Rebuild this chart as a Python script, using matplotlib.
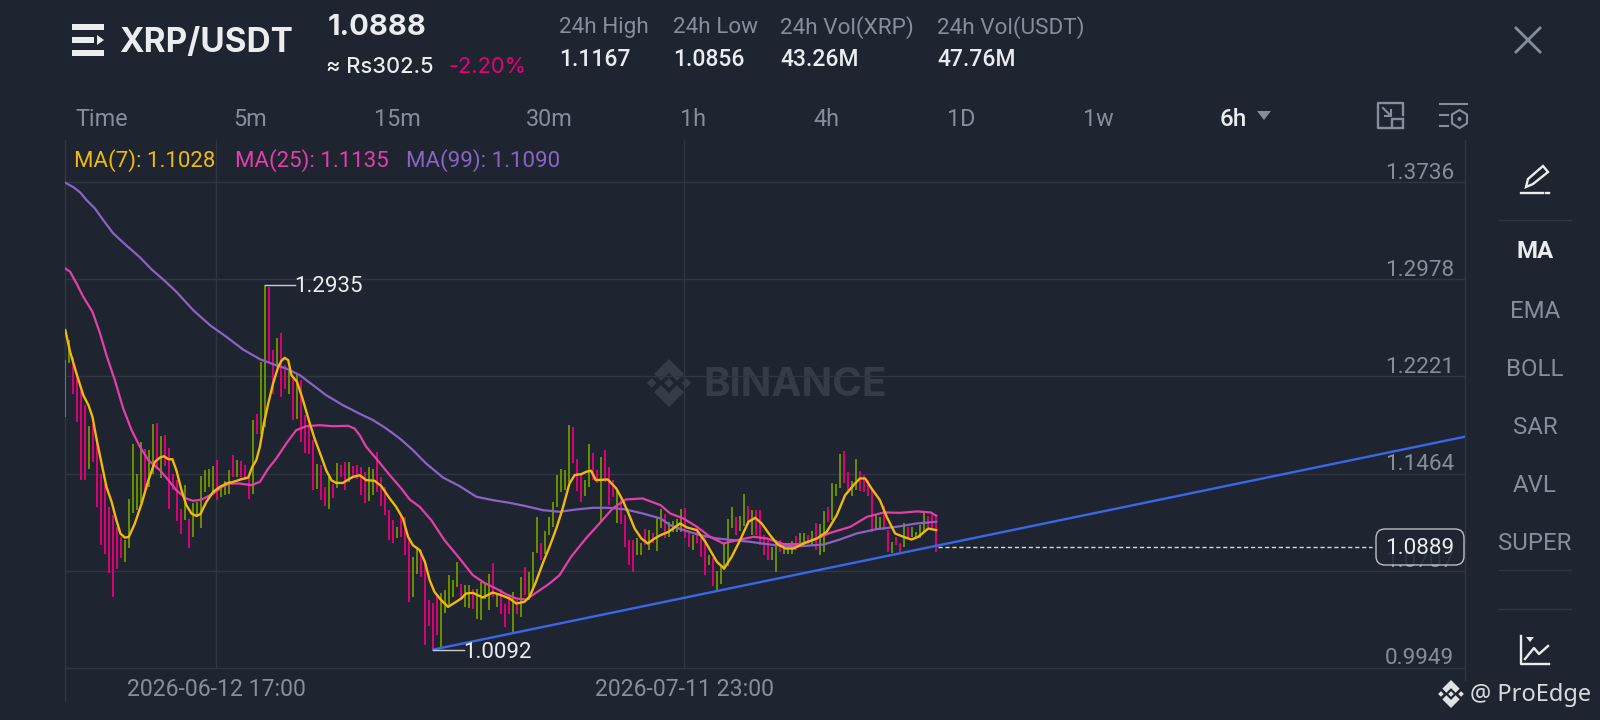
import matplotlib
matplotlib.use("Agg")
import matplotlib.pyplot as plt
from matplotlib.patches import Polygon, Rectangle, FancyBboxPatch, Circle

# bars left to right, 4px apart
bar_high = [
    1.2348,1.2504,1.2374,1.2244,1.2114,1.1997,1.1833,1.1854,1.1750,1.1459,
    1.1381,1.1204,1.1139,1.1048,1.0970,1.0949,1.1269,1.1698,1.1459,1.1711,
    1.1659,1.1651,1.1849,1.1859,1.1758,1.1768,1.1667,1.1464,1.1412,1.1191,
    1.1373,1.1113,1.1235,1.1243,1.1443,1.1495,1.1503,1.1521,1.1573,1.1360,
    1.1407,1.1495,1.1607,1.1568,1.1563,1.1529,1.1438,1.1880,1.1932,1.2335,
    1.2933,1.2920,1.2431,1.2522,1.2556,1.2309,1.2270,1.2231,1.2244,1.2192,
    1.1919,1.1854,1.1724,1.1542,1.1529,1.1360,1.1438,1.1386,1.1550,1.1529,
    1.1555,1.1555,1.1521,1.1529,1.1517,1.1478,1.1517,1.1496,1.1634,1.1439,
    1.1361,1.1179,1.1101,1.1049,1.1140,1.1127,1.0958,1.0810,1.0893,1.0867,
    1.0789,1.0482,1.0456,1.0529,1.0534,1.0555,1.0672,1.0633,1.0771,1.0607,
    1.0594,1.0594,1.0568,1.0568,1.0620,1.0612,1.0685,1.0763,1.0529,1.0568,
    1.0451,1.0503,1.0542,1.0477,1.0654,1.0737,1.0698,1.0854,1.1127,1.0919,
    1.1015,1.1127,1.1244,1.1452,1.1496,1.1491,1.1842,1.1824,1.1574,1.1452,
    1.1413,1.1694,1.1621,1.1491,1.1590,1.1647,1.1512,1.1413,1.1335,1.1257,
    1.1140,1.0945,1.0950,1.0958,1.0919,1.1028,1.1023,1.1002,1.1114,1.1184,
    1.1148,1.1088,1.1096,1.1106,1.1184,1.1192,1.0997,1.0984,1.1036,1.0971,
    1.0984,1.0828,1.0802,1.0706,1.0732,1.0932,1.1106,1.1205,1.1122,1.1135,
    1.1304,1.1210,1.1179,1.1179,1.1179,1.0984,1.0958,1.0888,1.0945,1.0945,
    1.0906,1.0919,1.0940,1.0979,1.0997,1.0997,1.0984,1.1015,1.1080,1.1067,
    1.1174,1.1205,1.1387,1.1382,1.1616,1.1642,1.1478,1.1405,1.1574,1.1486,
    1.1452,1.1413,1.1335,1.1140,1.1127,1.1210,1.1023,1.0932,1.0971,1.0919,
    1.1075,1.1049,1.1044,1.1010,1.1062,1.1158,1.1132,1.1140,1.1132]
bar_low = [
    1.1906,1.2322,1.2088,1.1867,1.1412,1.1417,1.1503,1.1555,1.1204,1.0905,
    1.0840,1.0689,1.0502,1.0723,1.0809,1.0775,1.0887,1.1160,1.1183,1.1235,
    1.1321,1.1360,1.1464,1.1503,1.1433,1.1521,1.1191,1.1334,1.1095,1.0996,
    1.1100,1.0887,1.0970,1.1126,1.1043,1.1321,1.1360,1.1308,1.1261,1.1282,
    1.1295,1.1308,1.1438,1.1438,1.1438,1.1412,1.1269,1.1308,1.1776,1.1776,
    1.1828,1.2335,1.2088,1.2296,1.2057,1.2127,1.2083,1.1885,1.1893,1.1711,
    1.1625,1.1620,1.1334,1.1347,1.1256,1.1209,1.1191,1.1277,1.1355,1.1438,
    1.1334,1.1399,1.1438,1.1425,1.1296,1.1231,1.1252,1.1296,1.1322,1.1210,
    1.1140,1.0945,1.0919,1.0958,1.0971,1.0828,1.0464,1.0503,1.0685,1.0659,
    1.0126,1.0274,1.0100,1.0204,1.0113,1.0378,1.0425,1.0503,1.0576,1.0490,
    1.0425,1.0420,1.0412,1.0334,1.0321,1.0490,1.0404,1.0503,1.0425,1.0373,
    1.0269,1.0373,1.0230,1.0373,1.0347,1.0516,1.0477,1.0555,1.0841,1.0794,
    1.0836,1.0984,1.1049,1.1205,1.1322,1.1335,1.1400,1.1543,1.1330,1.1244,
    1.1288,1.1361,1.1413,1.1387,1.1096,1.1400,1.1218,1.1283,1.1080,1.1070,
    1.0888,1.0750,1.0693,1.0828,1.0828,1.0906,1.0867,1.0919,1.0862,1.1036,
    1.0958,1.0971,1.1010,1.1010,1.1010,1.0958,1.0893,1.0867,1.0919,1.0810,
    1.0672,1.0750,1.0589,1.0542,1.0607,1.0711,1.0742,1.1036,1.0984,1.1015,
    1.1054,1.1062,1.0984,1.0984,1.0906,1.0828,1.0794,1.0794,1.0698,1.0854,
    1.0836,1.0836,1.0836,1.0867,1.0898,1.0906,1.0914,1.0898,1.0867,1.0833,
    1.0854,1.1088,1.1101,1.1288,1.1348,1.1387,1.1335,1.1288,1.1335,1.1330,
    1.1322,1.1288,1.1010,1.1023,1.1023,1.1023,1.0854,1.0846,1.0906,1.0849,
    1.0893,1.0971,1.0966,1.0958,1.0958,1.1010,1.1049,1.1036,1.0854]
# G = green bar, P = pink bar
bar_side = ("GGPPPPGPPP" "PPPPPGGGGG" "PGGPGPPPPP" "GPGGGGGGPG" "GGPGPPPGPG"
            "GPPGPPGPGP" "PPPGPPGPGP" "PGPPPPGGPP" "PPPGPPPGGP" "PPPPGGGGGP"
            "GGPGGGGPGP" "PPGPGPGGGP" "GGGGGGGPPP" "GGPPGPPPGP" "PPPGGPGPGG"
            "PGGGGPPGPP" "PGPGGGGGPG" "GPGPPPPGGP" "GGGPGGPGPG" "GPGGGPPGGP"
            "PPPGGPPGPP" "GPGGGGPPP")

ma7_idx = [0,1.2,2.8,4.5,5.8,6.8,7.8,9.1,10.3,11.6,12.8,13.8,14.9,15.9,17.4,19.1,20.8,22.4,23.7,24.7,
           25.8,26.8,27.8,29.1,30.3,31.6,32.8,33.8,35.3,37,38.7,40.3,42,44.1,45.8,46.8,47.8,48.7,49.7,50.8,
           52,53.3,54.1,54.9,55.8,56.6,58,59.5,61.2,62.4,64.1,65.3,66.6,67.8,69.5,70.8,72,73.7,
           75.3,77.4,79.1,81.2,82.8,84.5,85.8,87,88.7,90,91.2,92.4,94.1,95.8,97.4,99.1,100.3,102,104.5,107,
           109.1,111.2,112.9,114.9,116.2,117.8,119.5,121.2,122.9,124.5,126.2,127.5,129.2,130.4,131.6,132.8,135.8,137.9,139.5,140.8,
           142.5,144.2,145.8,147.5,149,151,153.9,155.6,158.1,160.2,163.1,164.9,166.8,168.9,171,172.7,174.3,176.4,178.1,180.2,
           182.3,184.8,188.1,190.6,193.1,195.2,197.3,198.9,200.2,201.8,203.9,205.6,207.7,209.8,211.8,213.5,216,218]
ma7_val = [1.2582,1.2413,1.2244,1.2075,1.1997,1.1906,1.1737,1.1542,1.1360,1.1243,1.1100,1.0996,1.0965,1.0970,1.1074,1.1230,1.1412,1.1555,1.1589,1.1599,
           1.1576,1.1576,1.1490,1.1334,1.1217,1.1152,1.1134,1.1147,1.1243,1.1321,1.1360,1.1386,1.1399,1.1420,1.1433,1.1516,1.1568,1.1672,1.1854,1.2010,
           1.2166,1.2296,1.2343,1.2366,1.2348,1.2231,1.2179,1.2036,1.1854,1.1737,1.1594,1.1490,1.1412,1.1391,1.1391,1.1417,1.1438,1.1451,
           1.1413,1.1408,1.1366,1.1270,1.1205,1.1114,1.0971,1.0906,1.0867,1.0776,1.0633,1.0542,1.0477,1.0425,1.0456,1.0490,1.0529,1.0534,1.0498,1.0537,
           1.0516,1.0490,1.0451,1.0464,1.0503,1.0620,1.0763,1.0893,1.1036,1.1192,1.1387,1.1452,1.1460,1.1478,1.1486,1.1413,1.1418,1.1348,1.1257,1.1166,
           1.1036,1.0958,1.0919,1.0958,1.0984,1.1010,1.1075,1.1044,1.1023,1.0932,1.0776,1.0724,1.0815,1.0945,1.1088,1.1119,1.1075,1.0984,1.0919,1.0880,
           1.0880,1.0919,1.0958,1.1010,1.1140,1.1296,1.1374,1.1426,1.1426,1.1348,1.1257,1.1127,1.0997,1.0971,1.0950,1.0971,1.1036,1.1023]

ma25_idx = [0,1.2,2.8,4.5,6.8,8.7,10.3,12.4,14.5,16.6,18.7,20.8,23.7,25.8,27.8,30.3,32,34.1,37,39.5,
            41.2,43.7,46.6,48.7,50.8,52.8,55.3,57.8,60.3,63.7,67,70.8,72.4,73.7,
            75.3,77.8,81.2,84.1,86.2,88.7,91.6,94.9,98.7,102,104.9,107.8,110.3,112.9,115.3,117.8,121.2,123.7,126.6,130.3,
            133.7,137,140.3,144.5,149,151.4,154.7,158.1,161.4,164.7,168.1,172.3,175.7,179.8,184,188.2,191.5,196.5,200.7,204.9,
            209.1,213.2,216.6,218]
ma25_val = [1.3063,1.3037,1.2946,1.2842,1.2725,1.2556,1.2387,1.2192,1.1971,1.1802,1.1672,1.1568,1.1490,1.1412,1.1334,1.1269,1.1251,1.1261,1.1308,1.1365,
            1.1386,1.1386,1.1373,1.1399,1.1503,1.1581,1.1698,1.1802,1.1833,1.1841,1.1833,1.1836,1.1815,1.1763,
            1.1673,1.1582,1.1452,1.1348,1.1262,1.1205,1.1101,1.0945,1.0802,1.0672,1.0612,1.0568,1.0524,1.0490,1.0482,1.0534,1.0607,1.0672,1.0815,1.0958,
            1.1075,1.1192,1.1262,1.1270,1.1218,1.1153,1.1114,1.1049,1.0971,1.0919,1.0945,1.0971,1.0958,1.0914,1.0914,1.0958,1.1002,1.1049,1.1127,1.1161,
            1.1158,1.1169,1.1161,1.1135]

ma99_idx = [0,2.1,3.8,5.3,7.4,9.5,12,14.9,18.7,21.6,24.5,27.8,32,36.2,40.3,44.5,48.7,52,55.3,58.7,
            62,65.3,69.5,73.7,77,80.3,83.7,87,90.3,94.5,98.7,102.9,107,111.2,115.3,119.5,123.7,127.9,132,136.2,
            140.3,144.5,149,151.4,154.8,158.9,163.1,167.3,171.4,175.6,179.8,184,189.8,193.9,198.1,203.1,208.1,213.1,218]
ma99_val = [1.3731,1.3695,1.3653,1.3596,1.3531,1.3440,1.3336,1.3253,1.3149,1.3055,1.2977,1.2881,1.2738,1.2621,1.2530,1.2431,1.2356,1.2317,1.2283,1.2231,
            1.2153,1.2075,1.1997,1.1930,1.1881,1.1816,1.1738,1.1647,1.1543,1.1434,1.1366,1.1283,1.1257,1.1236,1.1210,1.1179,1.1166,1.1184,1.1197,1.1197,
            1.1184,1.1153,1.1114,1.1062,1.1023,1.0984,1.0958,1.0945,1.0932,1.0914,1.0898,1.0898,1.0911,1.0950,1.0997,1.1031,1.1049,1.1075,1.1088]

trend_idx = [92.1, 350.3]
trend_val = [1.0092, 1.1751]

y_ticks = [1.3736, 1.2978, 1.2221, 1.1464, 1.0707, 0.9949]
x_tick_idx = [37.8, 154.9]
x_tick_labels = ["2026-06-12 17:00", "2026-07-11 23:00"]

last_price = 1.0889
max_price = 1.2935
max_idx = 50
min_price = 1.0092
min_idx = 92

tabs = ["Time", "5m", "15m", "30m", "1h", "4h", "1D", "1w"]
tab_x = [102, 250, 397, 549, 693, 826.5, 961, 1098]
stat_names = ["24h High", "24h Low", "24h Vol(XRP)", "24h Vol(USDT)"]
stat_vals = ["1.1167", "1.0856", "43.26M", "47.76M"]
stat_x = [559, 673, 780.5, 937]
side_names = ["EMA", "BOLL", "SAR", "AVL", "SUPER"]
side_y = [312, 369, 427, 485, 543]

BG = "#1F2530"
GRID = "#303642"
GRAY = "#848E9C"
WHITE = "#EAECEF"
PINK = "#E6007A"
GREEN = "#6B9400"
YELLOW = "#F0B90B"
MAG = "#E23FA9"
PURPLE = "#8A63C4"
BLUE = "#3A66E8"
FONT = "Roboto"

fig = plt.figure(figsize=(16, 7.2), dpi=100, facecolor=BG)

# whole figure in pixels for the app ui around the chart
ui = fig.add_axes([0, 0, 1, 1])
ui.set_xlim(0, 1600)
ui.set_ylim(720, 0)
ui.axis("off")

# chart area is 65..1465 x 140..700 px
ax = fig.add_axes([65 / 1600, 1 - 700 / 720, 1400 / 1600, 560 / 720])
ax.set_xlim(-0.075, 350.35)
ax.set_ylim(0.9699, 1.4064)
ax.axis("off")
ax.patch.set_alpha(0)


def label(x, y, s, size=16.2, color=GRAY, ha="left", va="center", weight="normal", family=FONT, z=5):
    return ui.text(x, y, s, fontsize=size, color=color, ha=ha, va=va, fontweight=weight, family=family, zorder=z)


def binance_logo(cx, cy, s, color):
    # s = half height of the whole mark
    d = s * 0.2
    for ox, oy in [(0, 0), (-s * 0.72, 0), (s * 0.72, 0)]:
        ui.add_patch(Polygon([(cx + ox - d, cy + oy), (cx + ox, cy + oy - d), (cx + ox + d, cy + oy), (cx + ox, cy + oy + d)],
                             color=color, lw=0, zorder=1))
    for sign in (-1, 1):
        w = s * 0.29
        ui.add_patch(Polygon([(cx, cy + sign * s), (cx + s * 0.62, cy + sign * (s - s * 0.62)), (cx + s * 0.62 - w, cy + sign * (s - s * 0.62 - w)),
                              (cx, cy + sign * (s - 2 * w)), (cx - s * 0.62 + w, cy + sign * (s - s * 0.62 - w)), (cx - s * 0.62, cy + sign * (s - s * 0.62))],
                             color=color, lw=0, zorder=1))


# watermark under the chart
binance_logo(669, 383, 24, "#353B47")
label(703, 386, "BINANCE", size=29, color="#353B47", weight="bold", family="Inter", z=1)

# grid
ax.hlines(y_ticks, -0.075, 350.35, color=GRID, lw=1, zorder=1)
ax.vlines(x_tick_idx, 0.9949, 1.4064, color=GRID, lw=1, zorder=1)
ui.plot([65, 65], [140, 700], color=GRID, lw=1, zorder=1)
ui.plot([1465, 1465], [140, 680], color=GRID, lw=1, zorder=1)

for v in y_ticks:
    yp = 279.3 + (1.2978 - v) * 1283
    label(1454, yp - 9, "%.4f" % v, ha="right")
for xi, s in zip(x_tick_idx, x_tick_labels):
    label(65.3 + xi * 3.995, 689, s, size=16.6, ha="center")

# bars
xs = list(range(len(bar_high)))
cols = [GREEN if c == "G" else PINK for c in bar_side]
ax.vlines(xs, bar_low, bar_high, colors=cols, lw=1.35, zorder=3, capstyle="butt")

ax.plot(ma99_idx, ma99_val, color=PURPLE, lw=1.6, zorder=4)
ax.plot(ma25_idx, ma25_val, color=MAG, lw=1.6, zorder=5)
ax.plot(ma7_idx, ma7_val, color=YELLOW, lw=1.7, zorder=6)
ax.plot(trend_idx, trend_val, color=BLUE, lw=1.7, zorder=7)

# max and min marks
ax.plot([max_idx, 57.6], [max_price, max_price], color="#C8CBD0", lw=1, zorder=7)
ax.plot([min_idx, 99.7], [min_price, min_price], color="#C8CBD0", lw=1, zorder=7)
ax.text(57.4, max_price - 0.0015, "%.4f" % max_price, color=WHITE, fontsize=16, va="center", family=FONT, zorder=8)
ax.text(99.5, min_price - 0.002, "%.4f" % min_price, color=WHITE, fontsize=16, va="center", family=FONT, zorder=8)

# last price
ax.plot([218.5, 327], [last_price, last_price], color="#D5D8DC", lw=1, ls=(0, (3, 2)), zorder=7)
ui.add_patch(FancyBboxPatch((1376, 529), 88, 36, boxstyle="round,pad=0,rounding_size=9", fc=BG, ec="#D5D8DC", lw=1, alpha=0.85, zorder=6))
label(1420, 549, "%.4f" % last_price, color=WHITE, ha="center", z=7)

# header
for y0, h, w in [(24, 6, 32), (50, 6, 32), (37, 6, 22)]:
    ui.add_patch(Rectangle((72, y0), w, h, color=WHITE, lw=0))
ui.add_patch(Polygon([(97, 35), (104, 40), (97, 45)], color=WHITE, lw=0))
label(119.5, 52, "XRP/USDT", size=24, color=WHITE, weight="bold", va="baseline", family="Inter")
label(328, 35, "1.0888", size=21, color=WHITE, weight="bold", va="baseline", family="Inter")
label(326, 73, "≈ Rs302.5", size=15.7, color=WHITE, va="baseline", family="Inter", weight="medium")
label(449, 73, "-2.20%", size=15.7, color=PINK, va="baseline", family="Inter")
for x, n, v in zip(stat_x, stat_names, stat_vals):
    label(x, 27.5, n)
    label(x, 59, v, size=16.5, color=WHITE, weight="medium")

# timeframe tabs
for x, t in zip(tab_x, tabs):
    label(x, 119, t, size=16.8, ha="center")
label(1233.5, 119, "6h", size=17.5, color=WHITE, ha="center", weight="medium")
ui.add_patch(Polygon([(1257, 111), (1271, 111), (1264, 120)], color=GRAY, lw=0))

# indicator legend
label(74.5, 160.5, "MA(7): 1.1028", size=16, color=YELLOW)
label(235, 160.5, "MA(25): 1.1135", size=16, color=MAG)
label(406, 160.5, "MA(99): 1.1090", size=16, color=PURPLE)

# close icon
ui.plot([1516, 1540], [28, 52], color=GRAY, lw=2)
ui.plot([1516, 1540], [52, 28], color=GRAY, lw=2)

# fullscreen icon
ui.plot([1403, 1403, 1378, 1378, 1390], [115, 103, 103, 127.5, 127.5], color=GRAY, lw=1.7)
ui.add_patch(Rectangle((1392, 119), 11, 8.5, fc="none", ec=GRAY, lw=1.7))
ui.plot([1383, 1390], [108, 115], color=GRAY, lw=1.5)
ui.plot([1385, 1391, 1391], [115.5, 115.5, 109.5], color=GRAY, lw=1.5)

# settings icon
ui.plot([1440, 1467], [104, 104], color=GRAY, lw=1.5)
ui.plot([1440, 1448], [115, 115], color=GRAY, lw=1.5)
ui.plot([1440, 1448], [126, 126], color=GRAY, lw=1.5)
ui.add_patch(Polygon([(1459.5, 110), (1467, 114.5), (1467, 123.5), (1459.5, 128), (1452, 123.5), (1452, 114.5)], fc="none", ec=GRAY, lw=1.5))
ui.add_patch(Circle((1459.5, 119), 2, color=GRAY, lw=0))

# side panel
ui.plot([1499, 1571], [220, 220], color=GRID, lw=1)
ui.plot([1499, 1571], [570, 570], color=GRID, lw=1)
ui.plot([1499, 1571], [609, 609], color=GRID, lw=1)
ui.add_patch(Polygon([(1533, 184), (1548, 172), (1543, 166), (1528, 179), (1526, 187)], fc="none", ec=WHITE, lw=1.7))
ui.plot([1521, 1543], [192.5, 192.5], color=WHITE, lw=1.7)
ui.plot([1546, 1549], [192.5, 192.5], color=WHITE, lw=1.7)
label(1535, 252, "MA", size=17.3, color=WHITE, ha="center", weight="bold")
for y, n in zip(side_y, side_names):
    label(1535, y, n, size=17.3, ha="center")

# indicator icon
ui.plot([1521, 1521, 1549], [636, 664, 664], color=WHITE, lw=1.7)
ui.plot([1525, 1534, 1539, 1548], [659, 648, 654, 646], color=WHITE, lw=1.7)
ui.add_patch(Polygon([(1526, 637), (1534, 637), (1530, 642)], color=WHITE, lw=0))

# bottom right tag
binance_logo(1451, 694, 14, "#E0E2E6")
label(1470, 695, "@ ProEdge", size=17, color="#D8DADE", family="Noto Sans")

fig.savefig("out.png", dpi=100, facecolor=BG)
